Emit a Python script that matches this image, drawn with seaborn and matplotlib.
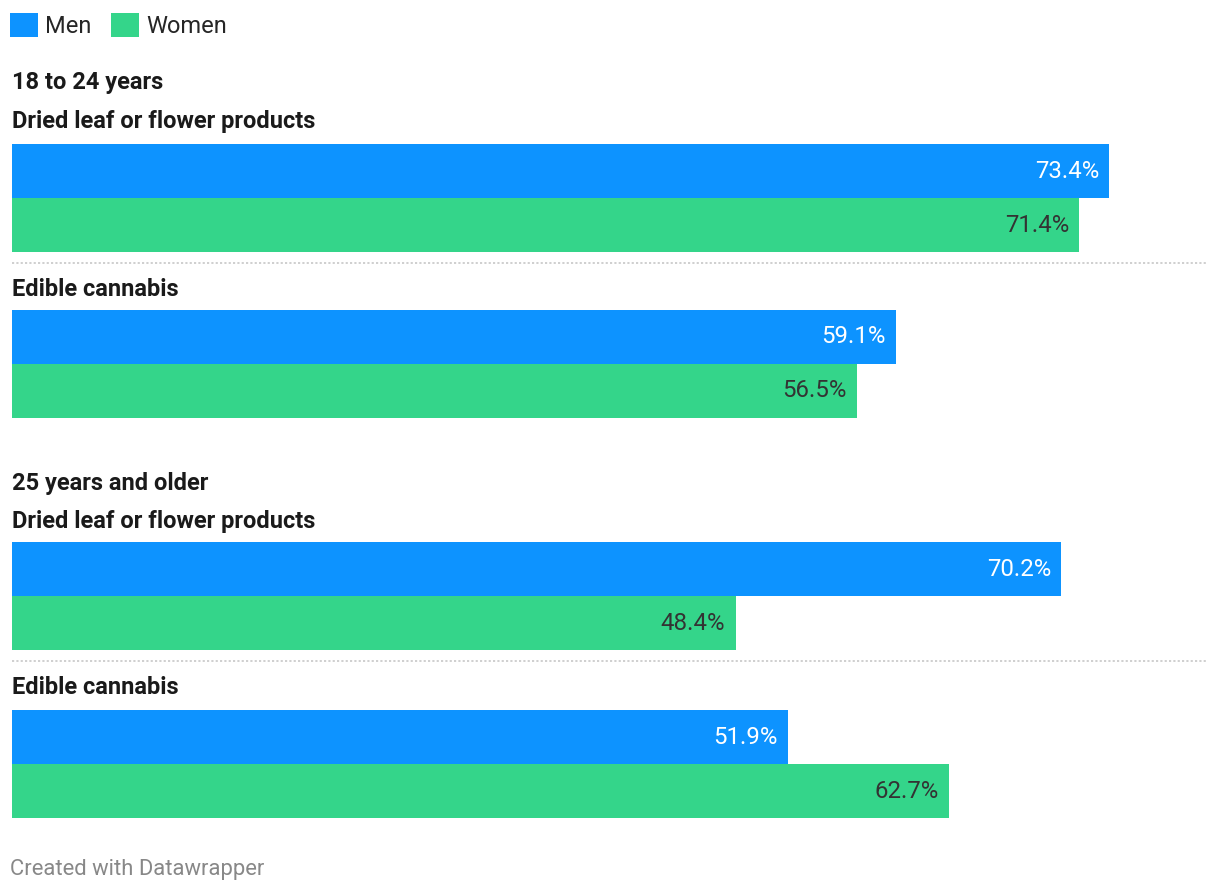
import numpy as np
import pandas as pd
import seaborn as sns
import matplotlib.pyplot as plt
from matplotlib.patches import Patch
from matplotlib.lines import Line2D

AGES = ["18 to 24 years", "25 years and older"]
PRODUCTS = ["Dried leaf or flower products", "Edible cannabis"]
SEXES = ["Men", "Women"]
MEN = [73.4, 59.1, 70.2, 51.9]
WOMEN = [71.4, 56.5, 48.4, 62.7]

BLUE = "#0d93ff"
GREEN = "#34d58a"
W, H = 1220, 894


def fx(px):
    return px / W


def fy(py):
    return 1 - py / H


def main():
    sns.set_theme(style="white")
    plt.rcParams['font.family'] = ['Roboto', 'DejaVu Sans']

    rows = []
    i = 0
    for age in AGES:
        for prod in PRODUCTS:
            rows.append({'age': age, 'product': prod, 'sex': 'Men', 'pct': MEN[i]})
            rows.append({'age': age, 'product': prod, 'sex': 'Women', 'pct': WOMEN[i]})
            i += 1
    df = pd.DataFrame(rows)

    fig = plt.figure(figsize=(W / 100, H / 100), dpi=100)
    fig.patch.set_facecolor('white')

    tops = [144, 310, 542, 710]
    heads = [(82.5, AGES[0]), (121.5, PRODUCTS[0]), (289.5, PRODUCTS[1]),
             (483.5, AGES[1]), (521.5, PRODUCTS[0]), (687.5, PRODUCTS[1])]
    for y, t in heads:
        fig.text(fx(12), fy(y), t, fontsize=17, fontweight='bold',
                 color='#1a1a1a', ha='left', va='center')

    k = 0
    for age in AGES:
        for prod in PRODUCTS:
            sub = df[(df['age'] == age) & (df['product'] == prod)]
            top = tops[k]
            ax = fig.add_axes([fx(12), fy(top + 108), fx(1196), 108 / H])
            sns.barplot(data=sub, x='pct', y='product', hue='sex', hue_order=SEXES,
                        palette=[BLUE, GREEN], width=1.0, orient='h',
                        legend=False, saturation=1, linewidth=0, ax=ax)
            ax.set_xlim(0, 80)
            ax.set_ylim(0.5, -0.5)
            ax.axis('off')
            for cont, col in zip(ax.containers, ['white', '#333333']):
                labels = ax.bar_label(cont, fmt='%.1f%%', padding=-7.5,
                                      fontsize=17.3, color=col)
                for lb in labels:
                    lb.set_ha('right')
            k += 1

    for y in [262.5, 660.5]:
        fig.add_artist(Line2D([fx(12), fx(1208)], [fy(y), fy(y)], color='#cccccc',
                              lw=1.3, ls=(0, (1.2, 1.2)), transform=fig.transFigure))

    handles = [Patch(facecolor=BLUE, edgecolor='none'), Patch(facecolor=GREEN, edgecolor='none')]
    fig.legend(handles, SEXES, loc='upper left', bbox_to_anchor=(fx(10), fy(13)),
               ncol=2, frameon=False, fontsize=17, handlelength=1.18, handleheight=1.18,
               handletextpad=0.3, columnspacing=0.85, borderpad=0, borderaxespad=0)

    fig.text(fx(10), fy(870), "Created with Datawrapper", fontsize=15.8,
             color='#888888', ha='left', va='center')

    plt.savefig("out.png", dpi=100)


if __name__ == "__main__":
    main()
